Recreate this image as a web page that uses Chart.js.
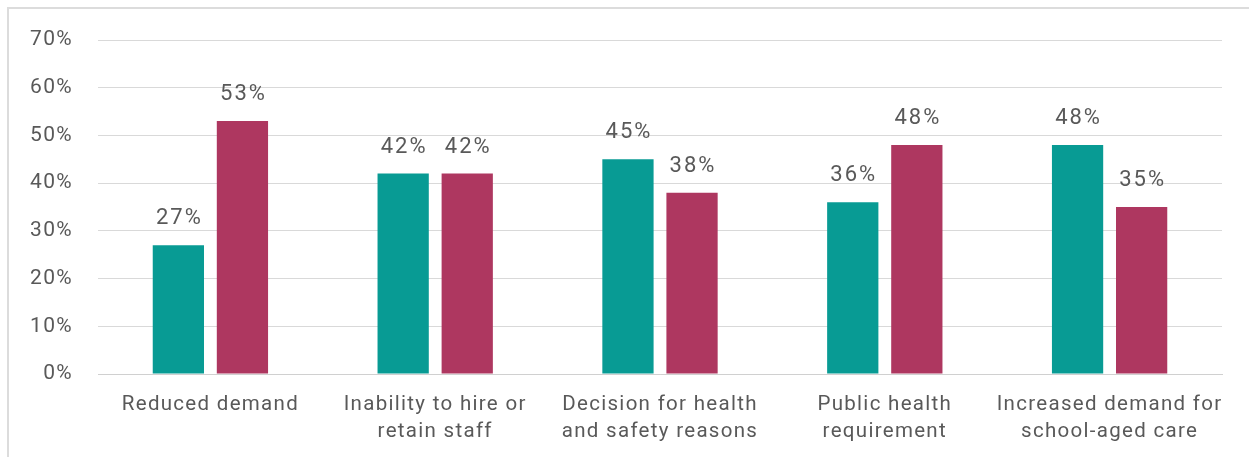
<!DOCTYPE html>
<html>
<head>
<meta charset="utf-8">
<script src="https://cdn.jsdelivr.net/npm/chart.js@4/dist/chart.umd.min.js"></script>
<style>
  html, body { margin: 0; padding: 0; background: #fff; }
  .frame {
    position: absolute; left: 7px; top: 7px;
    width: 1260px; height: 470px;
    border: 2px solid #dcdcdc; box-sizing: border-box;
  }
  .wrap { position: absolute; left: 0; top: 0; width: 1249px; height: 457px; }
</style>
</head>
<body>
<div class="frame"></div>
<div class="wrap"><canvas id="myChart" width="1249" height="457"></canvas></div>
<script>
var categories = [
  ["Reduced demand"],
  ["Inability to hire or", "retain staff"],
  ["Decision for health", "and safety reasons"],
  ["Public health", "requirement"],
  ["Increased demand for", "school-aged care"]
];
var seriesA = [27, 42, 45, 36, 48];
var seriesB = [53, 42, 38, 48, 35];
var yTicks = [0, 10, 20, 30, 40, 50, 60, 70];

var textGray = "#595959";

// wide tracking on all axis text
var tracking = {
  id: "tracking",
  beforeDraw: function (chart) { chart.ctx.letterSpacing = "1.3px"; }
};

// percentages printed above every bar
var barLabels = {
  id: "barLabels",
  afterDatasetsDraw: function (chart) {
    var ctx = chart.ctx;
    ctx.save();
    ctx.letterSpacing = "2px";
    ctx.font = "22px Roboto";
    ctx.fillStyle = textGray;
    ctx.textAlign = "center";
    ctx.textBaseline = "alphabetic";
    chart.data.datasets.forEach(function (ds, i) {
      chart.getDatasetMeta(i).data.forEach(function (bar, j) {
        ctx.fillText(ds.data[j] + "%", bar.x + 1, bar.y - 21);
      });
    });
    ctx.restore();
  }
};

new Chart(document.getElementById("myChart"), {
  type: "bar",
  data: {
    labels: categories,
    datasets: [
      { data: seriesA, backgroundColor: "#089b94", categoryPercentage: 0.57, barPercentage: 0.8 },
      { data: seriesB, backgroundColor: "#ae3760", categoryPercentage: 0.57, barPercentage: 0.8 }
    ]
  },
  options: {
    responsive: false,
    animation: false,
    layout: { padding: { top: 40, right: 27, left: 0, bottom: 0 } },
    plugins: { legend: { display: false }, tooltip: { enabled: false } },
    scales: {
      x: {
        grid: { display: false },
        border: { color: "#d0d0d0", width: 1 },
        ticks: {
          color: textGray, font: { family: "Roboto", size: 20.5, lineHeight: 1.33 },
          maxRotation: 0, autoSkip: false, padding: 9
        },
        afterFit: function (s) { s.height = 83; }
      },
      y: {
        min: 0, max: 70,
        afterBuildTicks: function (s) { s.ticks = yTicks.map(function (v) { return { value: v }; }); },
        grid: { color: "#d9d9d9", drawTicks: false },
        border: { display: false },
        ticks: {
          color: textGray, font: { family: "Roboto", size: 21 }, padding: 25,
          callback: function (v) { return v + "%"; }
        },
        afterFit: function (s) { s.width = 98; }
      }
    }
  },
  plugins: [tracking, barLabels]
});
</script>
</body>
</html>
